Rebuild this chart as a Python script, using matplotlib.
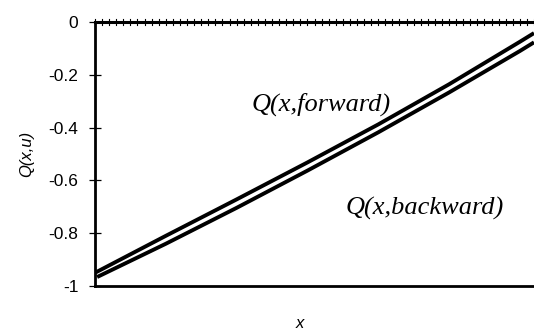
import matplotlib.pyplot as plt

# sampled points along the two curves
x_fwd = [0, 10, 20, 30, 40, 50, 60, 62]
q_forward = [-0.950, -0.810, -0.672, -0.532, -0.388, -0.236, -0.075, -0.042]

x_bwd = [0.3, 10, 20, 30, 40, 50, 60, 62]
q_backward = [-0.966, -0.840, -0.704, -0.563, -0.418, -0.267, -0.110, -0.077]

y_ticks = [0, -0.2, -0.4, -0.6, -0.8, -1]
y_labels = ["0", "-0.2", "-0.4", "-0.6", "-0.8", "-1"]

fig = plt.figure(figsize=(5.34, 3.35), dpi=100)
ax = fig.add_axes([95 / 534, 1 - 286 / 335, 1 - 95 / 534, (286 - 22) / 335])

ax.plot(x_fwd, q_forward, color="black", linewidth=2.8, solid_capstyle="butt")
ax.plot(x_bwd, q_backward, color="black", linewidth=2.8, solid_capstyle="butt")

ax.set_xlim(0, 62)
ax.set_ylim(-1, 0)

# spines: left and bottom frame, x-axis crossing at zero
ax.spines["right"].set_visible(False)
ax.spines["top"].set_visible(False)
ax.spines["left"].set_linewidth(2)
ax.spines["bottom"].set_linewidth(2)

ax.axhline(0, color="black", linewidth=2.2, clip_on=False)
for i in range(63):
    ax.plot([i, i], [-0.013, 0.013], color="black", linewidth=0.8, clip_on=False)

ax.set_xticks([])
ax.set_yticks(y_ticks)
ax.set_yticklabels(y_labels, fontsize=12.5, family="Liberation Sans")
ax.tick_params(axis="y", direction="inout", length=8, width=0.9, pad=8)

ax.set_ylabel("Q(x,u)", fontsize=12, family="Liberation Sans", style="italic", labelpad=10)
fig.text(300 / 534, 1 - 323 / 335, "x", fontsize=12, family="Liberation Sans",
         style="italic", ha="center", va="center")

ax.text(32, -0.31, "Q(x,forward)", fontsize=19, family="Liberation Serif",
        style="italic", ha="center", va="center")
ax.text(46.5, -0.705, "Q(x,backward)", fontsize=19, family="Liberation Serif",
        style="italic", ha="center", va="center")

fig.savefig("out.png", dpi=100)
